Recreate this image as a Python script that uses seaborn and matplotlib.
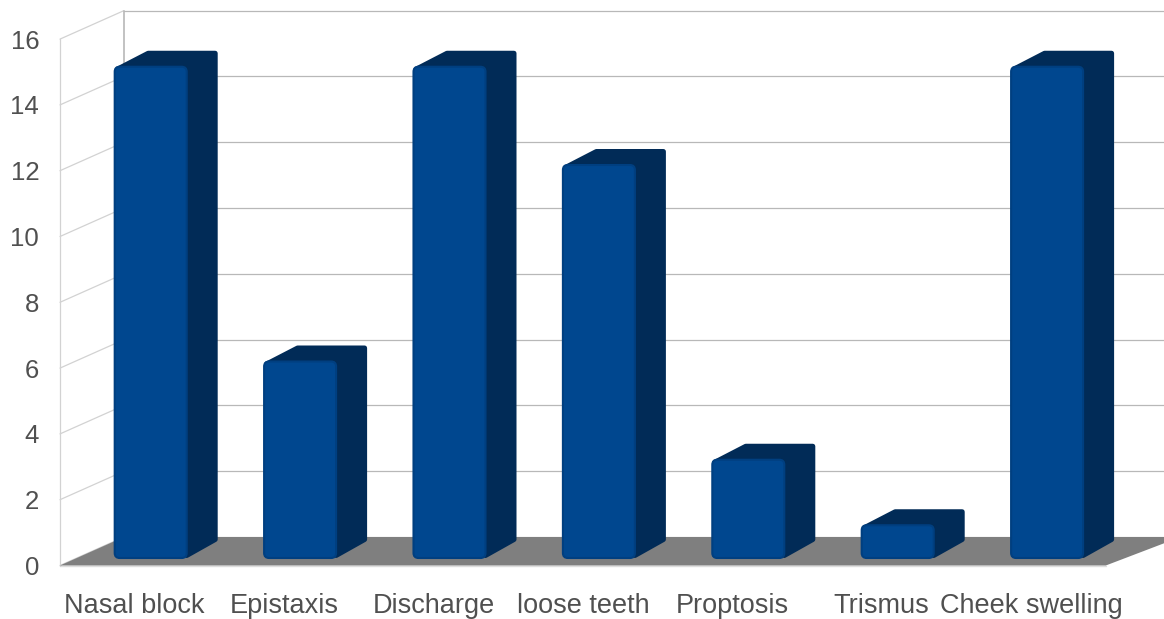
import matplotlib
matplotlib.use("Agg")
import matplotlib.pyplot as plt
from matplotlib.patches import FancyBboxPatch, Polygon
import pandas as pd
import seaborn as sns

categories = ["Nasal block", "Epistaxis", "Discharge", "loose teeth",
              "Proptosis", "Trismus", "Cheek swelling"]
counts = [15, 6, 15, 12, 3, 1, 15]
y_ticks = [0, 2, 4, 6, 8, 10, 12, 14, 16]

W, H = 1164, 619
SLOT = 149.4      # px per category
UNIT_WALL = 32.9  # px per count on the walls
UNIT_BAR = 32.75  # px per count on the bars

FRONT_FACE = "#00478f"
FACE_EDGE = "#003f80"
DARK_FACE = "#012b57"
FLOOR = "#7f7f7f"
GRID = "#b8b8b8"
SIDE_GRID = "#d2d2d2"
TEXT = "#505050"

sns.set_theme(style="white")
plt.rcParams["font.family"] = ["Liberation Sans", "DejaVu Sans"]

fig = plt.figure(figsize=(W / 100, H / 100), dpi=100, facecolor="white")


def px_axes(left, baseline, unit):
    """Axes whose x runs over the categories and whose y=0 sits on a pixel row."""
    return fig.add_axes([left / W, (H - baseline) / H,
                         7 * SLOT / W, 16 * unit / H],
                        xlim=(-0.5, 6.5), ylim=(0, 16))


# Walls and floor of the 3D box
wall = px_axes(60, 565.5, UNIT_WALL)
wall.set_facecolor("none")
sns.despine(ax=wall, left=True, bottom=True, right=True, top=True)
bx = 64 / SLOT
by = 28.5 / UNIT_WALL
x0, x1 = -0.5, 6.5
far = x1 + 0.5

wall.add_patch(Polygon([(x0, 0), (x0 + bx, by), (far, by), (x1, 0)],
                       closed=True, fc=FLOOR, ec="none", zorder=2, clip_on=False))
wall.plot([x0, x1], [-0.03, -0.03], color="#dddddd", lw=1.0, zorder=1, clip_on=False)
for v in y_ticks:
    wall.plot([x0 + bx, far], [v + by, v + by], color=GRID, lw=0.9, zorder=1, clip_on=False)
    wall.plot([x0, x0 + bx], [v, v + by], color=SIDE_GRID, lw=0.9, zorder=1, clip_on=False)
wall.plot([x0, x0], [0, 16], color=SIDE_GRID, lw=0.9, zorder=1, clip_on=False)
wall.plot([x0 + bx, x0 + bx], [by, 16 + by], color=GRID, lw=1.2, zorder=1, clip_on=False)

wall.set_xticks(range(len(categories)), categories)
wall.set_yticks(y_ticks)
wall.tick_params(axis="x", length=0, pad=19.5, labelsize=19.5, labelcolor=TEXT)
wall.tick_params(axis="y", length=0, pad=15, labelsize=18.5, labelcolor=TEXT)

# Bars stand a quarter of the way into the box
ax = px_axes(76, 558, UNIT_BAR)
ax.patch.set_visible(False)
df = pd.DataFrame({"symptom": categories, "count": counts})
sns.barplot(data=df, x="symptom", y="count", color=FRONT_FACE, saturation=1,
            width=72 / SLOT, linewidth=0, ax=ax, zorder=4)
ax.set_xlim(-0.5, 6.5)
ax.set_ylim(0, 16)
ax.axis("off")

dx = 31 / SLOT
dy = 16 / UNIT_BAR
rx = 5 / SLOT
aspect = (5 / UNIT_BAR) / rx
in_x = 2.5 / SLOT
in_y = 2.5 / UNIT_BAR

for bar in ax.patches[:len(counts)]:
    left, right = bar.get_x(), bar.get_x() + bar.get_width()
    h = bar.get_height()
    # Top and side faces as one silhouette behind the front face
    ax.add_patch(Polygon(
        [(left + in_x, h - in_y), (left + dx + in_x, h + dy - in_y),
         (right + dx - in_x, h + dy - in_y), (right + dx - in_x, dy + in_y),
         (right, in_y)],
        closed=True, fc=DARK_FACE, ec=DARK_FACE, lw=3.6, joinstyle="round",
        zorder=3, clip_on=False))
    # Rounded corners on the front face
    rounded = FancyBboxPatch((left, 0), right - left, h,
                             boxstyle=f"round,pad=0,rounding_size={rx}",
                             mutation_aspect=aspect, fc="none", ec=FACE_EDGE,
                             lw=1.5, zorder=5, clip_on=False,
                             transform=ax.transData)
    ax.add_patch(rounded)
    bar.set_clip_path(rounded)

fig.savefig("out.png", dpi=100, facecolor="white")
